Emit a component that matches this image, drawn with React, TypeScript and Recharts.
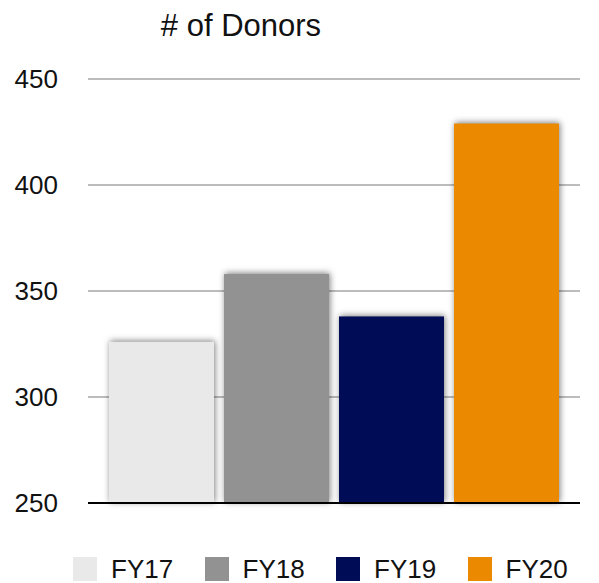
import { BarChart, Bar, XAxis, YAxis, CartesianGrid, Legend } from "recharts";

const years = ["FY17", "FY18", "FY19", "FY20"];
const donors = [326, 358, 338, 429];
const colors = ["#e9e9e9", "#929292", "#000c55", "#eb8a00"];
const yTicks = [250, 300, 350, 400, 450];

const font = "'Liberation Sans', Arial, sans-serif";

const row: Record<string, any> = { name: "# of Donors" };
years.forEach((y, i) => {
  row[y] = donors[i];
});
const data = [row];

function ShadowBar(props: any) {
  const { x, y, width, height, fill } = props;
  return (
    <rect
      x={x}
      y={y}
      width={width}
      height={height}
      fill={fill}
      style={{ filter: "drop-shadow(1px -1px 3px rgba(0,0,0,0.5))" }}
    />
  );
}

function LegendBox() {
  return (
    <div style={{ display: "flex", paddingLeft: 73, height: 24, alignItems: "center", fontFamily: font }}>
      {years.map((y, i) => (
        <div key={y} style={{ display: "flex", alignItems: "center", width: 140 }}>
          <span style={{ width: 24, height: 24, background: colors[i], marginRight: 14 }} />
          <span style={{ fontSize: 26, color: "#111", lineHeight: "24px" }}>{y}</span>
        </div>
      ))}
    </div>
  );
}

export default function App() {
  return (
    <div style={{ position: "absolute", left: 0, top: 0, width: 599, height: 583, background: "#fff" }}>
      <div
        style={{
          position: "absolute",
          left: 0,
          top: 10,
          width: 482,
          textAlign: "center",
          fontFamily: font,
          fontSize: 31,
          lineHeight: 1,
          color: "#111",
        }}
      >
        # of Donors
      </div>
      <BarChart
        width={599}
        height={583}
        data={data}
        margin={{ top: 79, right: 19, left: 0, bottom: 2 }}
        barCategoryGap={21}
        barGap={10}
      >
        <CartesianGrid vertical={false} stroke="#bcbcbc" strokeWidth={2} />
        <XAxis dataKey="name" tick={false} tickLine={false} axisLine={{ stroke: "#000", strokeWidth: 2 }} height={54} />
        <YAxis
          domain={[250, 450]}
          ticks={yTicks}
          width={88}
          tickSize={0}
          tickMargin={30}
          axisLine={false}
          tickLine={false}
          tick={{ fill: "#111", fontSize: 26, fontFamily: font }}
        />
        <Legend verticalAlign="bottom" content={() => <LegendBox />} wrapperStyle={{ left: 0, width: 599 }} />
        {years.map((y, i) => (
          <Bar key={y} dataKey={y} fill={colors[i]} shape={ShadowBar} isAnimationActive={false} />
        ))}
      </BarChart>
    </div>
  );
}
